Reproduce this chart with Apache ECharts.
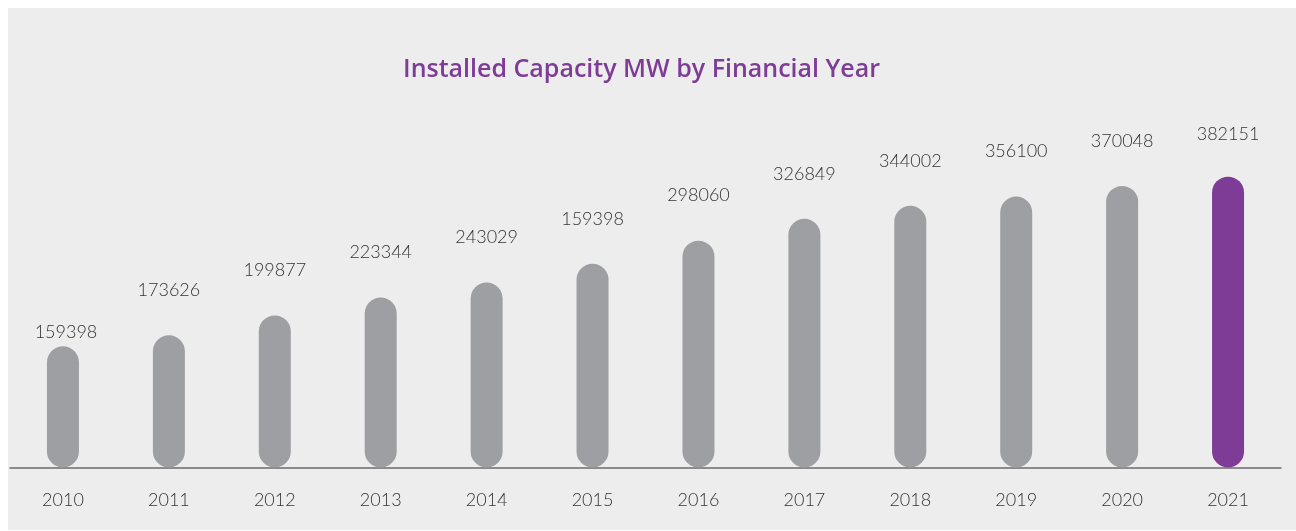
<!DOCTYPE html>
<html>
<head>
<meta charset="utf-8">
<script src="https://cdn.jsdelivr.net/npm/echarts@6/dist/echarts.min.js"></script>
<style>
  html, body { margin: 0; padding: 0; background: #ffffff; }
  #chart { position: absolute; left: 8px; top: 8px; width: 1288px; height: 522px; background: #ededed; }
</style>
</head>
<body>
<div id="chart"></div>
<script>
// years on the x axis
var years = ['2010', '2011', '2012', '2013', '2014', '2015', '2016', '2017', '2018', '2019', '2020', '2021'];
// bar heights (MW)
var capacity = [159398, 173626, 199877, 223344, 243029, 267700, 298060, 326849, 344002, 356100, 370048, 382151];
// the text printed above each bar (2015 is printed as 159398 in the original)
var labelText = ['159398', '173626', '199877', '223344', '243029', '159398', '298060', '326849', '344002', '356100', '370048', '382151'];

var grey = '#9e9fa3';
var purple = '#7e3c96';

var myChart = echarts.init(document.getElementById('chart'));

var data = capacity.map(function (v, i) {
    var item = {
        value: v,
        itemStyle: { color: i === capacity.length - 1 ? purple : grey }
    };
    if (i === 0) {
        item.label = { offset: [3, 31] };
    }
    if (i === capacity.length - 1) {
        item.label = { offset: [0, 3] };
    }
    return item;
});

var option = {
    title: {
        text: 'Installed Capacity MW by Financial Year',
        left: 395,
        top: 49,
        padding: 0,
        textStyle: {
            color: '#7e3c96',
            fontFamily: 'Open Sans',
            fontWeight: 600,
            fontSize: 25
        }
    },
    grid: {
        left: 2,
        right: 15,
        top: 79,
        bottom: 62.5
    },
    xAxis: {
        type: 'category',
        data: years,
        axisLine: { lineStyle: { color: '#6b6b6b', width: 1.5 } },
        axisTick: { show: false },
        axisLabel: {
            color: '#333333',
            fontFamily: 'Lato',
            fontWeight: 300,
            fontSize: 18,
            margin: 24
        }
    },
    yAxis: {
        type: 'value',
        min: 0,
        max: 500000,
        show: false
    },
    series: [
        {
            type: 'bar',
            data: data,
            barWidth: 32,
            itemStyle: { borderRadius: 16 },
            label: {
                show: true,
                position: 'top',
                distance: 36,
                color: '#333333',
                fontFamily: 'Lato',
                fontWeight: 300,
                fontSize: 18,
                formatter: function (p) {
                    return labelText[p.dataIndex];
                }
            }
        }
    ]
};

myChart.setOption(option);
</script>
</body>
</html>
